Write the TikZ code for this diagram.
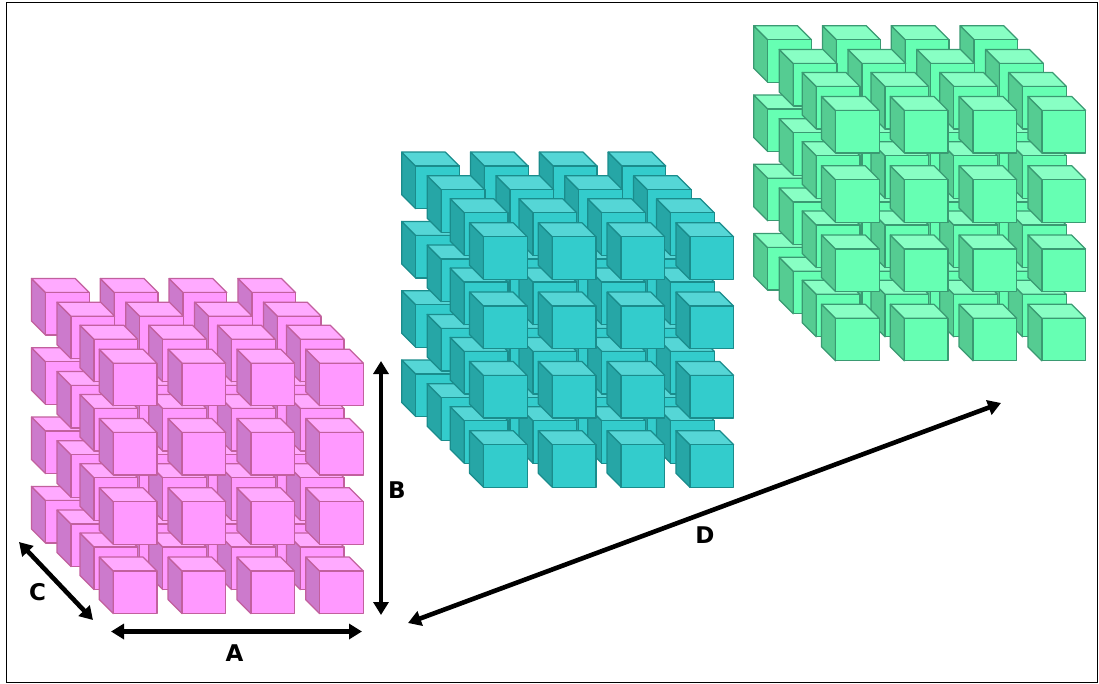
\documentclass[tikz,border=0pt]{standalone}
\usepackage{fontspec}
\usepackage{xcolor}
\usepackage{tikz}
\setsansfont{DejaVu Sans}
\usetikzlibrary{arrows.meta}
\definecolor{pinkfront}{HTML}{FF99FF}
\definecolor{pinktop}{HTML}{FFAAFF}
\definecolor{pinkside}{HTML}{CC7ACC}
\definecolor{pinkline}{HTML}{C2609E}
\definecolor{tealfront}{HTML}{33CCCC}
\definecolor{tealtop}{HTML}{55D6D6}
\definecolor{tealside}{HTML}{26A6A6}
\definecolor{tealline}{HTML}{1A8C8C}
\definecolor{greenfront}{HTML}{66FFB3}
\definecolor{greentop}{HTML}{88FFC4}
\definecolor{greenside}{HTML}{55CC92}
\definecolor{greenline}{HTML}{3A9A72}

\begin{document}
\begin{tikzpicture}[
  x=1pt,y=-1pt,
  face/.style={draw=cubeline,line width=1.25pt,line join=round},
  dim/.style={{Triangle[length=13pt,width=15pt]}-{Triangle[length=13pt,width=15pt]},line width=4.6pt,black},
  dimlabel/.style={font=\sffamily\bfseries\fontsize{23}{25}\selectfont,inner sep=0pt},
  cube/.pic={
    \fill[face,fill=cubeside] (0,0) -- (14,14) -- (14,56.5) -- (0,42.5) -- cycle;
    \fill[face,fill=cubetop] (0,0) -- (43.7,0) -- (57.7,14) -- (14,14) -- cycle;
    \fill[face,fill=cubefront] (14,14) rectangle (57.7,56.5);
  }
]
\useasboundingbox (0,0) rectangle (1099,683);
\draw[line width=1pt] (6.5,2) rectangle (1097.5,682.5);

% three blocks, back layer first
\foreach \block/\bx/\by in {pink/0/0,teal/370.2/-126.4,green/722.2/-252.8}{
  \colorlet{cubefront}{\block front}
  \colorlet{cubetop}{\block top}
  \colorlet{cubeside}{\block side}
  \colorlet{cubeline}{\block line}
  \foreach \lx/\ly in {0/0,25.5/23.7,48.5/46.7,67.8/70.7}
    \foreach \col in {0,1,2,3}
      \foreach \row in {0,1,2,3}
        \pic at ({31.5+\bx+\lx+\col*68.8},{278.5+\by+\ly+\row*69.3}) {cube};
}

\coordinate (aleft) at (111,631.5);
\coordinate (aright) at (362,631.5);
\coordinate (btop) at (381,361);
\coordinate (bbottom) at (381,615);
\coordinate (cback) at (19,542);
\coordinate (cfront) at (93,620);
\coordinate (dnear) at (408,623);
\coordinate (dfar) at (1001,403);

\draw[dim] (aleft) -- (aright);
\draw[dim] (btop) -- (bbottom);
\draw[dim] (cback) -- (cfront);
\draw[dim] (dnear) -- (dfar);

\node[dimlabel] (labela) at (234.5,653) {A};
\node[dimlabel] (labelb) at (397,490) {B};
\node[dimlabel] (labelc) at (37.5,592) {C};
\node[dimlabel] (labeld) at (705,535) {D};
\end{tikzpicture}
\end{document}
